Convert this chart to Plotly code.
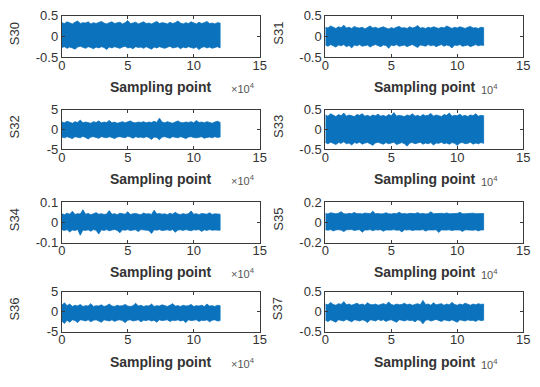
import plotly.graph_objects as go

# ---------------- data (signal envelopes) ----------------
names = ["S30", "S31", "S32", "S33", "S34", "S35", "S36", "S37"]
last_sample = 120000  # signals run from sampling point 0 to 1.2e5

s30_upper = [0.33,0.31,0.35,0.32,0.30,0.34,0.37,0.31,0.33,0.32,0.35,0.30,0.33,0.31,0.34,0.36,0.32,0.30,0.33,0.35,0.31,0.32,0.34,0.30,0.33,0.38,0.31,0.32,0.34,0.30,0.33,0.35,0.31,0.32,0.30,0.34,0.36,0.31,0.33,0.32,0.30,0.34,0.31,0.33,0.37,0.32,0.30,0.33,0.31,0.35,0.32,0.30,0.34,0.31,0.33,0.36,0.31,0.32,0.30,0.33,0.32]
s30_lower = [-0.27,-0.25,-0.29,-0.26,-0.28,-0.31,-0.26,-0.24,-0.27,-0.29,-0.25,-0.27,-0.30,-0.26,-0.28,-0.25,-0.27,-0.32,-0.26,-0.28,-0.25,-0.27,-0.29,-0.26,-0.24,-0.28,-0.27,-0.30,-0.25,-0.27,-0.26,-0.29,-0.25,-0.27,-0.31,-0.26,-0.28,-0.25,-0.27,-0.29,-0.26,-0.24,-0.28,-0.27,-0.25,-0.30,-0.26,-0.28,-0.25,-0.27,-0.29,-0.26,-0.32,-0.27,-0.25,-0.28,-0.26,-0.29,-0.27,-0.25,-0.28]

s31_upper = [0.22,0.20,0.25,0.21,0.19,0.23,0.21,0.27,0.20,0.22,0.19,0.24,0.21,0.20,0.22,0.18,0.21,0.25,0.20,0.22,0.19,0.21,0.23,0.20,0.18,0.21,0.19,0.22,0.24,0.20,0.21,0.19,0.23,0.20,0.22,0.26,0.20,0.21,0.19,0.22,0.20,0.23,0.21,0.19,0.22,0.20,0.25,0.21,0.19,0.22,0.20,0.23,0.21,0.19,0.22,0.24,0.20,0.21,0.19,0.22,0.21]
s31_lower = [-0.21,-0.24,-0.20,-0.23,-0.26,-0.21,-0.23,-0.20,-0.25,-0.22,-0.28,-0.21,-0.23,-0.20,-0.24,-0.22,-0.21,-0.26,-0.22,-0.20,-0.23,-0.25,-0.21,-0.22,-0.29,-0.21,-0.23,-0.20,-0.24,-0.22,-0.21,-0.25,-0.22,-0.20,-0.23,-0.27,-0.21,-0.22,-0.24,-0.20,-0.23,-0.21,-0.25,-0.22,-0.20,-0.24,-0.21,-0.23,-0.28,-0.21,-0.22,-0.20,-0.24,-0.22,-0.21,-0.25,-0.22,-0.20,-0.23,-0.21,-0.22]

s32_upper = [1.9,1.7,2.1,1.8,1.6,2.0,1.8,2.4,1.7,1.9,1.8,1.6,2.0,1.8,2.2,1.7,1.9,1.8,2.3,1.7,1.9,1.6,1.8,2.0,1.7,1.9,2.2,1.8,1.7,1.9,1.8,2.0,1.7,1.9,1.8,2.1,1.8,2.9,1.9,1.7,2.0,1.8,1.6,1.9,2.2,1.8,1.7,1.9,1.8,2.0,1.7,2.3,1.8,1.9,1.7,2.0,1.8,1.6,1.9,2.1,1.8]
s32_lower = [-1.9,-2.1,-1.8,-2.0,-2.3,-1.8,-1.9,-2.1,-1.7,-2.0,-2.4,-1.9,-1.8,-2.0,-2.2,-1.8,-1.9,-2.1,-1.8,-2.0,-2.3,-1.9,-1.8,-2.0,-2.1,-1.7,-1.9,-2.2,-1.8,-2.0,-1.9,-2.1,-1.8,-2.0,-2.5,-1.9,-2.0,-2.6,-1.9,-1.8,-2.0,-2.2,-1.8,-1.9,-2.1,-1.8,-2.0,-2.3,-1.9,-1.8,-2.0,-2.1,-1.9,-1.8,-2.2,-2.0,-1.9,-2.1,-1.8,-2.0,-1.9]

s33_upper = [0.37,0.34,0.40,0.36,0.33,0.38,0.35,0.42,0.34,0.37,0.35,0.33,0.38,0.36,0.40,0.34,0.36,0.33,0.37,0.35,0.39,0.34,0.36,0.33,0.38,0.35,0.43,0.34,0.36,0.35,0.33,0.37,0.35,0.40,0.34,0.36,0.33,0.38,0.35,0.36,0.41,0.34,0.37,0.35,0.33,0.38,0.36,0.42,0.34,0.36,0.35,0.39,0.34,0.36,0.33,0.37,0.35,0.40,0.34,0.36,0.35]
s33_lower = [-0.33,-0.36,-0.32,-0.35,-0.38,-0.33,-0.35,-0.31,-0.36,-0.34,-0.39,-0.33,-0.35,-0.32,-0.37,-0.34,-0.33,-0.36,-0.40,-0.34,-0.32,-0.35,-0.37,-0.33,-0.36,-0.34,-0.32,-0.38,-0.35,-0.33,-0.36,-0.42,-0.34,-0.33,-0.36,-0.35,-0.32,-0.37,-0.34,-0.36,-0.33,-0.39,-0.34,-0.35,-0.32,-0.36,-0.34,-0.37,-0.33,-0.35,-0.40,-0.34,-0.33,-0.36,-0.35,-0.32,-0.37,-0.34,-0.36,-0.33,-0.35]

s34_upper = [0.042,0.038,0.045,0.040,0.055,0.039,0.043,0.041,0.062,0.040,0.044,0.038,0.042,0.048,0.040,0.043,0.039,0.041,0.058,0.040,0.043,0.038,0.045,0.041,0.040,0.052,0.039,0.042,0.044,0.040,0.038,0.046,0.041,0.043,0.039,0.060,0.041,0.044,0.040,0.042,0.038,0.045,0.040,0.050,0.041,0.039,0.043,0.040,0.042,0.056,0.040,0.043,0.038,0.044,0.041,0.040,0.047,0.039,0.042,0.041,0.040]
s34_lower = [-0.037,-0.040,-0.036,-0.048,-0.038,-0.041,-0.035,-0.064,-0.038,-0.040,-0.037,-0.044,-0.036,-0.039,-0.058,-0.037,-0.040,-0.036,-0.042,-0.038,-0.035,-0.040,-0.052,-0.037,-0.039,-0.036,-0.041,-0.038,-0.037,-0.046,-0.036,-0.039,-0.038,-0.040,-0.055,-0.037,-0.039,-0.036,-0.041,-0.038,-0.037,-0.040,-0.036,-0.049,-0.038,-0.037,-0.040,-0.036,-0.039,-0.042,-0.037,-0.038,-0.036,-0.045,-0.037,-0.040,-0.036,-0.039,-0.038,-0.037,-0.039]

s35_upper = [0.088,0.082,0.095,0.086,0.084,0.090,0.105,0.085,0.083,0.089,0.086,0.098,0.084,0.087,0.083,0.092,0.086,0.085,0.110,0.084,0.088,0.083,0.086,0.094,0.085,0.082,0.088,0.086,0.100,0.084,0.087,0.083,0.089,0.085,0.086,0.096,0.084,0.088,0.083,0.086,0.104,0.085,0.087,0.083,0.089,0.085,0.093,0.084,0.086,0.083,0.088,0.099,0.085,0.084,0.087,0.083,0.091,0.085,0.086,0.084,0.087]
s35_lower = [-0.074,-0.078,-0.072,-0.085,-0.075,-0.073,-0.077,-0.092,-0.074,-0.076,-0.072,-0.080,-0.075,-0.073,-0.098,-0.075,-0.077,-0.072,-0.083,-0.074,-0.076,-0.073,-0.088,-0.075,-0.074,-0.077,-0.072,-0.079,-0.075,-0.095,-0.074,-0.076,-0.073,-0.081,-0.075,-0.074,-0.077,-0.072,-0.087,-0.075,-0.073,-0.076,-0.074,-0.100,-0.075,-0.073,-0.077,-0.074,-0.082,-0.075,-0.072,-0.076,-0.090,-0.074,-0.075,-0.073,-0.078,-0.074,-0.085,-0.075,-0.076]

s36_upper = [1.6,2.2,1.5,1.9,1.3,1.6,1.4,1.8,1.3,1.5,1.4,2.0,1.3,1.5,1.4,1.7,1.3,1.5,1.9,1.4,1.3,1.6,1.4,1.5,1.8,1.4,1.3,1.5,2.1,1.4,1.6,1.3,1.5,1.4,1.9,1.3,1.5,1.4,1.7,1.4,1.3,1.6,2.0,1.4,1.5,1.3,1.6,1.4,1.5,1.8,1.3,1.5,1.4,1.6,1.3,1.9,1.4,1.5,1.3,1.6,1.5]
s36_lower = [-2.3,-2.9,-2.1,-2.6,-2.0,-2.2,-2.7,-2.0,-2.1,-2.3,-2.0,-2.5,-2.1,-2.0,-2.2,-2.6,-2.0,-2.1,-2.3,-2.0,-2.4,-2.1,-2.0,-2.2,-2.7,-2.1,-2.0,-2.3,-2.1,-2.0,-2.5,-2.1,-2.2,-2.0,-2.3,-2.1,-2.6,-2.0,-2.2,-2.1,-2.0,-2.4,-2.1,-2.2,-2.0,-2.3,-2.1,-2.7,-2.0,-2.2,-2.1,-2.0,-2.4,-2.1,-2.2,-2.0,-2.5,-2.1,-2.0,-2.3,-2.2]

s37_upper = [0.19,0.17,0.23,0.18,0.16,0.20,0.18,0.25,0.17,0.19,0.16,0.18,0.21,0.17,0.19,0.16,0.22,0.18,0.17,0.19,0.16,0.18,0.20,0.17,0.24,0.18,0.16,0.19,0.17,0.18,0.21,0.17,0.19,0.16,0.18,0.20,0.17,0.28,0.18,0.19,0.16,0.22,0.17,0.18,0.20,0.16,0.19,0.17,0.23,0.18,0.16,0.19,0.17,0.21,0.18,0.16,0.19,0.17,0.20,0.18,0.19]
s37_lower = [-0.21,-0.24,-0.20,-0.22,-0.26,-0.20,-0.21,-0.23,-0.19,-0.22,-0.25,-0.20,-0.21,-0.23,-0.20,-0.22,-0.27,-0.20,-0.21,-0.23,-0.19,-0.22,-0.20,-0.24,-0.21,-0.20,-0.22,-0.26,-0.20,-0.21,-0.23,-0.20,-0.22,-0.21,-0.25,-0.20,-0.22,-0.30,-0.21,-0.20,-0.23,-0.21,-0.19,-0.22,-0.24,-0.20,-0.21,-0.23,-0.20,-0.22,-0.26,-0.20,-0.21,-0.23,-0.20,-0.22,-0.21,-0.24,-0.20,-0.22,-0.21]

uppers = [s30_upper, s31_upper, s32_upper, s33_upper, s34_upper, s35_upper, s36_upper, s37_upper]
lowers = [s30_lower, s31_lower, s32_lower, s33_lower, s34_lower, s35_lower, s36_lower, s37_lower]

y_limits = [0.5, 0.5, 5, 0.5, 0.1, 0.2, 5, 0.5]
y_ticktexts = [["-0.5", "0", "0.5"], ["-0.5", "0", "0.5"], ["-5", "0", "5"], ["-0.5", "0", "0.5"],
               ["-0.1", "0", "0.1"], ["-0.2", "0", "0.2"], ["-5", "0", "5"], ["-0.5", "0", "0.5"]]
x_tickvals = [0, 50000, 100000, 150000]
x_ticktext = ["0", "5", "10", "15"]
x_title = "Sampling point"


def sample_axis(values):
    n = len(values)
    return [j * last_sample / (n - 1) for j in range(n)]


# ---------------- layout geometry ----------------
W, H = 540, 387
BLUE = "#0b72bd"
AX = "#3a3a3a"
FONT = "Liberation Sans, Arial, Helvetica, sans-serif"

col_px = [(59, 261), (328, 530)]
row_px = [(9, 52), (107, 148), (203, 245), (296, 338)]


def build(x_standoff):
    fig = go.Figure()
    annotations = []
    layout = {}
    for i, name in enumerate(names):
        r, c = divmod(i, 2)
        k = i + 1
        xa = "x" if k == 1 else f"x{k}"
        ya = "y" if k == 1 else f"y{k}"
        x0, x1 = col_px[c]
        top, bot = row_px[r]

        xu = sample_axis(uppers[i])
        xl = sample_axis(lowers[i])
        fig.add_trace(go.Scatter(x=xu + xl[::-1], y=uppers[i] + lowers[i][::-1],
                                 xaxis=xa, yaxis=ya, mode="lines",
                                 fill="toself", fillcolor=BLUE,
                                 line=dict(color=BLUE, width=0.8), showlegend=False,
                                 hoverinfo="skip"))

        lim = y_limits[i]
        common = dict(showline=True, linecolor=AX, linewidth=1, mirror="ticks",
                      ticks="inside", ticklen=3, tickcolor=AX, showgrid=False,
                      zeroline=False, tickfont=dict(family=FONT, size=13, color="#333333"))
        xdict = dict(domain=[x0 / W, x1 / W], anchor=ya, range=[0, 150000],
                     tickmode="array", tickvals=x_tickvals, ticktext=x_ticktext, **common)
        if x_standoff is not None:
            xdict["ticklabelstandoff"] = x_standoff
        layout["xaxis" if k == 1 else f"xaxis{k}"] = xdict
        layout["yaxis" if k == 1 else f"yaxis{k}"] = dict(
            domain=[1 - bot / H, 1 - top / H], anchor=xa, range=[-lim, lim],
            tickmode="array", tickvals=[-lim, 0, lim], ticktext=y_ticktexts[i], **common)

        annotations.append(dict(text=x_title, xref="paper", yref="paper",
                                x=(x0 + x1) / 2 / W, y=1 - (bot + 31) / H,
                                showarrow=False, xanchor="center", yanchor="middle",
                                font=dict(family=FONT, size=14, color="#333333", weight="bold")))
        if c == 0:
            annotations.append(dict(text="×10<sup>4</sup>", xref="paper", yref="paper",
                                    x=244 / W, y=1 - (bot + 32) / H, showarrow=False,
                                    xanchor="center", yanchor="middle",
                                    font=dict(family=FONT, size=11, color="#555555")))
        else:
            annotations.append(dict(text="10<sup>4</sup>", xref="paper", yref="paper",
                                    x=496 / W, y=1 - (bot + 33) / H, showarrow=False,
                                    xanchor="center", yanchor="middle",
                                    font=dict(family=FONT, size=11, color="#555555")))
        annotations.append(dict(text=name, xref="paper", yref="paper",
                                x=(x0 - 48) / W, y=1 - ((top + bot) / 2 - 3) / H,
                                showarrow=False, textangle=-90,
                                xanchor="center", yanchor="middle",
                                font=dict(family=FONT, size=13, color="#333333")))

    fig.update_layout(width=W, height=H, margin=dict(l=0, r=0, t=0, b=0),
                      paper_bgcolor="white", plot_bgcolor="white",
                      annotations=annotations, **layout)
    return fig


try:
    fig = build(-4)
except ValueError:
    fig = build(None)

fig.write_html("out.html")
